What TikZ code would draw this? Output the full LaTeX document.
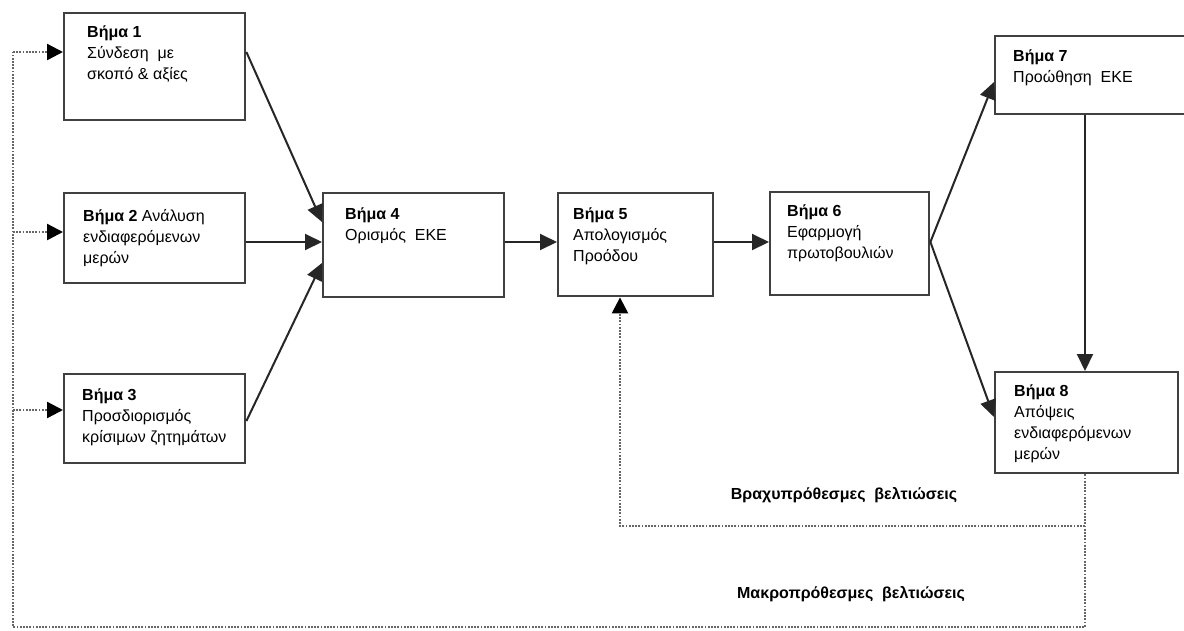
\documentclass[tikz,border=0pt]{standalone}
\usepackage{fontspec}
\setmainfont{Liberation Sans}
\usetikzlibrary{arrows.meta}

\begin{document}
\begin{tikzpicture}[x=1pt,y=-1pt,>={Triangle[length=17pt,width=16pt]},
  stepbox/.style={draw=black!75,line width=2.4pt,anchor=north west,inner sep=0pt},
  steptext/.style={anchor=north west,inner sep=0pt,align=left,font=\fontsize{16}{21}\selectfont},
  flow/.style={->,line width=2pt,draw=black!85},
  fback/.style={line width=2.4pt,draw=black!60,dash pattern=on 1.8pt off 1.4pt},
  fin/.style={-{Triangle[length=16pt,width=16pt,color=black]}},
  note/.style={inner sep=0pt,font=\fontsize{16}{21}\selectfont\bfseries}]
\useasboundingbox[fill=white] (0,0) rectangle (1184,630);

% The boxes
\node[stepbox,minimum width=181,minimum height=107] (s1) at (63,12) {};
\node[stepbox,minimum width=181,minimum height=90]  (s2) at (63,192) {};
\node[stepbox,minimum width=181,minimum height=89]  (s3) at (63,373) {};
\node[stepbox,minimum width=181,minimum height=104] (s4) at (322,192) {};
\node[stepbox,minimum width=155,minimum height=103] (s5) at (557,192) {};
\node[stepbox,minimum width=159,minimum height=103] (s6) at (769,191) {};
\node[stepbox,minimum width=200,minimum height=78]  (s7) at (994,35) {};
\node[stepbox,minimum width=183,minimum height=101] (s8) at (994,371) {};

% The texts
\node[steptext] (t1) at (87,26)   {\textbf{Βήμα 1}\\Σύνδεση\ \ με\\σκοπό \& αξίες};
\node[steptext] (t2) at (83,209)  {\textbf{Βήμα 2} Ανάλυση\\ενδιαφερόμενων\\μερών};
\node[steptext] (t3) at (82,389)  {\textbf{Βήμα 3}\\Προσδιορισμός\\κρίσιμων ζητημάτων};
\node[steptext] (t4) at (345,208) {\textbf{Βήμα 4}\\Ορισμός\ \ ΕΚΕ};
\node[steptext] (t5) at (573,208) {\textbf{Βήμα 5}\\Απολογισμός\\Προόδου};
\node[steptext] (t6) at (787,205) {\textbf{Βήμα 6}\\Εφαρμογή\\πρωτοβουλιών};
\node[steptext] (t7) at (1013,50) {\textbf{Βήμα 7}\\Προώθηση\ \ ΕΚΕ};
\node[steptext] (t8) at (1014,385) {\textbf{Βήμα 8}\\Απόψεις\\ενδιαφερόμενων\\μερών};

% The flow
\draw[flow] (s1.north east |- 0,52)  -- (s4.north west |- 0,222);
\draw[flow] (s2.north east |- 0,242) -- (s4.north west |- 0,242);
\draw[flow] (s3.north east |- 0,421) -- (s4.north west |- 0,263);
\draw[flow] (s4.north east |- 0,242) -- (s5.north west |- 0,242);
\draw[flow] (s5.north east |- 0,242) -- (s6.north west |- 0,242);
\coordinate (o6) at (s6.north east |- 0,242);
\draw[flow] (o6) -- (s7.north west |- 0,82);
\draw[flow] (o6) -- (s8.north west |- 0,417);
\draw[flow] (s7.south west -| 1085,0) -- (s8.north west -| 1085,0);

% The feedback loops
\coordinate (b8) at (s8.south west -| 1085,0);
\coordinate (c1) at (1085,526);
\coordinate (c2) at (1085,627);
\coordinate (c3) at (13,627);
\coordinate (c4) at (13,52);
\draw[fback] (b8) -- (c2) -- (c3) -- (c4);
\draw[fback,fin] (c1) -- (620,526) -- (s5.south west -| 620,0);
\draw[fback,fin] (c4) -- (s1.north west |- 0,52);
\draw[fback,fin] (13,232) -- (s2.north west |- 0,232);
\draw[fback,fin] (13,410) -- (s3.north west |- 0,410);

\node[note] (n1) at (844,495) {Βραχυπρόθεσμες\ \ βελτιώσεις};
\node[note] (n2) at (851,594) {Μακροπρόθεσμες\ \ βελτιώσεις};
\end{tikzpicture}
\end{document}
